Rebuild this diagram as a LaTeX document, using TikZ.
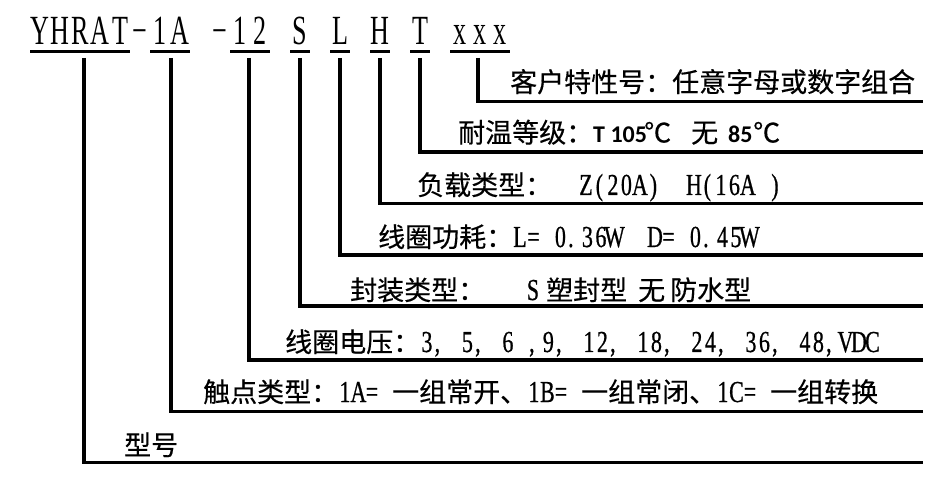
\documentclass[tikz,border=0pt]{standalone}
\usepackage{fontspec}
\newfontfamily\cjkfont[FakeBold=0.4]{Noto Sans CJK SC}
\newfontfamily\serfont[FakeStretch=0.72,FakeBold=0.6]{Liberation Serif}
\newfontfamily\ttlfont[FakeStretch=0.63]{Liberation Serif}
\newfontfamily\calfont{Carlito}
\ExplSyntaxOn
\NewDocumentCommand\cellstr{mm}
 {
  \str_map_inline:nn {#2}
   {
    \str_if_eq:nnTF {##1} {_}
     { \hspace*{#1} }
     {
      \str_if_eq:nnTF {##1} {,}
       { \makebox[#1][l]{\hspace*{1pt}##1} }
       {
        \str_if_eq:nnTF {##1} {.}
         { \makebox[#1][l]{\hspace*{1pt}##1} }
         { \makebox[#1][c]{##1} }
       }
     }
   }
 }
\ExplSyntaxOff
\newcommand\hw[1]{{\serfont\fontsize{30.5}{32}\selectfont\cellstr{13.5pt}{#1}}}
\newcommand\boldcal[1]{{\calfont\bfseries\fontsize{24}{26}\selectfont #1}}
\begin{document}
\begin{tikzpicture}[x=1pt,y=-1pt,
  conn/.style={line width=3.3pt, line join=miter},
  ul/.style={line width=3.2pt},
  lbl/.style={anchor=base west, inner sep=0pt, font=\cjkfont\fontsize{27}{30}\selectfont},
  ttl/.style={anchor=base west, inner sep=0pt, font=\ttlfont\fontsize{41.5}{42}\selectfont}]
\fill[white] (0,0) rectangle (938,489);
\useasboundingbox (0,0) rectangle (938,489);
% title
\node[ttl] (title) at (30,45) {\cellstr{20pt}{YHRAT−1A_−12_S_L_H_T_xxx}};
\draw[ul] (30,51.5) -- (130,51.5);
\draw[ul] (150,51.5) -- (190,51.5);
\draw[ul] (230,51.5) -- (270,51.5);
\draw[ul] (290,51.5) -- (310,51.5);
\draw[ul] (330,51.5) -- (350,51.5);
\draw[ul] (370,51.5) -- (390,51.5);
\draw[ul] (410,51.5) -- (430,51.5);
\draw[ul] (450,51.5) -- (510,51.5);
% connector coordinates
\coordinate (tY) at (84,58);   \coordinate (eY) at (923,462.5);
\coordinate (tA) at (171,58);  \coordinate (eA) at (923,411.5);
\coordinate (tV) at (249,58);  \coordinate (eV) at (923,360);
\coordinate (tS) at (300,58);  \coordinate (eS) at (923,306);
\coordinate (tL) at (340,58);  \coordinate (eL) at (923,255);
\coordinate (tH) at (380,58);  \coordinate (eH) at (923,203.5);
\coordinate (tT) at (420,58);  \coordinate (eT) at (923,152);
\coordinate (tX) at (478,58);  \coordinate (eX) at (923,101.5);
\draw[conn] (tY) |- (eY);
\draw[conn] (tA) |- (eA);
\draw[conn] (tV) |- (eV);
\draw[conn] (tS) |- (eS);
\draw[conn] (tL) |- (eL);
\draw[conn] (tH) |- (eH);
\draw[conn] (tT) |- (eT);
\draw[conn] (tX) |- (eX);
% labels
\node[lbl] (lblX) at (510,92) {客户特性号：任意字母或数字组合};
\node[lbl] (lblT) at (458,142.5) {\makebox[135pt][l]{耐温等级：}\makebox[51pt][l]{\boldcal{T 105}}\makebox[47pt][l]{℃}\makebox[37pt][l]{无}\makebox[25pt][l]{\boldcal{85}}℃};
\node[lbl] (lblH) at (417,195) {负载类型：\hw{__Z(20A)__H(16A_)}};
\node[lbl] (lblL) at (378,247) {线圈功耗：\hw{L=_0.36W__D=_0.45W}};
\node[lbl] (lblS) at (350,300) {\makebox[176pt][l]{封装类型：}\makebox[20pt][l]{\hw{S}}塑封型\hspace{11pt}无\hspace{5pt}防水型};
\node[lbl] (lblV) at (285,352) {线圈电压：\hw{3,_5,_6_,9,_12,_18,_24,_36,_48,VDC}};
\node[lbl] (lblA) at (203,402) {触点类型：\hw{1A=_}一组常开、\hw{1B=_}一组常闭、\hw{1C=_}一组转换};
\node[lbl] (lblY) at (124,455) {型号};
\end{tikzpicture}
\end{document}
